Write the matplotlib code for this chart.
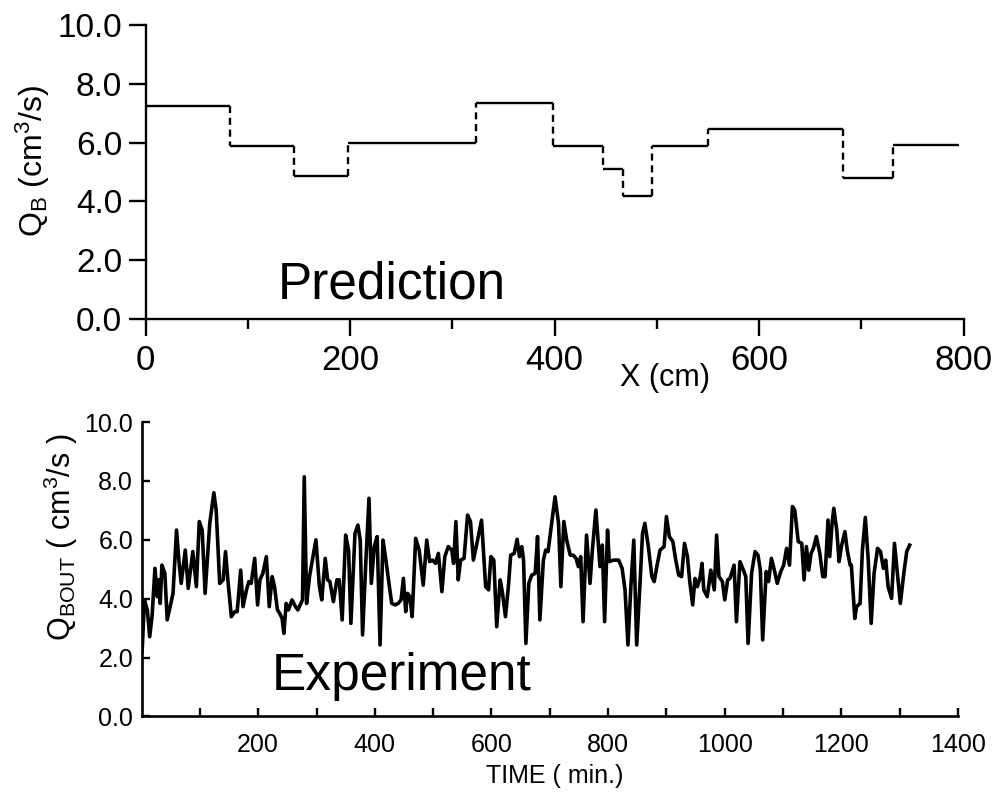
import matplotlib
matplotlib.use("Agg")
import matplotlib.pyplot as plt

plt.rcParams["font.family"] = ["Liberation Sans", "DejaVu Sans"]
plt.rcParams["mathtext.fontset"] = "custom"
plt.rcParams["mathtext.rm"] = "Liberation Sans"
plt.rcParams["mathtext.it"] = "Liberation Sans"

# Prediction: piecewise constant Q_B along the column
pred_edges = [0, 82, 145, 198, 323, 398, 447, 467, 495, 550, 682, 731, 796]
pred_levels = [7.25, 5.9, 4.85, 6.0, 7.35, 5.9, 5.1, 4.2, 5.9, 6.45, 4.8, 5.92]

# Experiment: outflow rate vs time
exp_time = [
    1, 5, 10, 14, 18, 23, 27, 29, 32, 35, 40, 44, 49, 54, 60, 64, 68, 75, 80, 84,
    88, 94, 99, 104, 109, 117, 124, 128, 134, 140, 144, 148, 154, 160, 164, 170,
    174, 180, 184, 188, 194, 199, 203, 208, 214, 219, 224, 228, 233, 237, 241,
    244, 248, 252, 258, 264, 268, 272, 276, 279, 283, 288, 294, 299, 305, 309,
    315, 319, 323, 329, 335, 339, 344, 350, 355, 359, 366, 371, 375, 379, 385,
    390, 394, 399, 404, 409, 414, 419, 425, 429, 435, 440, 445, 449, 453, 456,
    460, 464, 470, 476, 483, 489, 494, 499, 504, 509, 515, 520, 526, 532, 535,
    539, 543, 547, 553, 559, 564, 569, 575, 583, 590, 595, 599, 604, 609, 615,
    619, 624, 629, 633, 639, 644, 648, 652, 655, 659, 664, 669, 675, 679, 683,
    689, 693, 697, 709, 715, 719, 724, 729, 735, 740, 745, 749, 753, 757, 763,
    769, 773, 779, 786, 790, 794, 799, 802, 809, 818, 824, 829, 834, 839, 844,
    849, 855, 859, 863, 869, 875, 879, 884, 889, 896, 900, 905, 911, 916, 921,
    926, 931, 936, 940, 945, 949, 953, 958, 961, 964, 970, 976, 982, 986, 990,
    996, 1000, 1005, 1009, 1016, 1020, 1026, 1032, 1036, 1040, 1046, 1052, 1057,
    1061, 1065, 1071, 1075, 1080, 1085, 1090, 1096, 1101, 1106, 1111, 1116,
    1120, 1126, 1132, 1136, 1140, 1144, 1148, 1152, 1157, 1163, 1168, 1172,
    1177, 1180, 1184, 1187, 1192, 1196, 1200, 1206, 1210, 1215, 1217, 1223,
    1226, 1232, 1236, 1241, 1246, 1251, 1256, 1262, 1267, 1272, 1276, 1280,
    1286, 1291, 1296, 1301, 1307, 1312, 1317,
]
exp_q = [
    2.2, 3.96, 3.6, 2.71, 3.39, 5.03, 4.07, 4.64, 3.84, 5.14, 4.86, 3.28, 3.73,
    4.18, 6.33, 5.31, 4.52, 5.65, 4.35, 4.97, 5.6, 4.41, 6.62, 6.33, 4.18, 6.56,
    7.6, 7.01, 4.52, 4.64, 5.6, 4.64, 3.39, 3.56, 3.56, 4.97, 3.73, 4.3, 4.58,
    4.52, 5.37, 3.79, 4.64, 4.86, 5.43, 3.73, 4.75, 4.41, 3.62, 3.5, 3.33, 2.82,
    3.84, 3.62, 3.96, 3.73, 3.62, 3.79, 3.96, 8.14, 3.84, 4.75, 5.43, 6.0, 4.41,
    3.96, 5.37, 4.64, 4.58, 3.9, 4.64, 4.64, 3.28, 6.16, 5.65, 3.16, 6.22, 6.5,
    5.99, 2.77, 5.43, 7.41, 4.52, 5.77, 6.11, 2.43, 5.99, 5.31, 4.41, 3.84,
    3.79, 3.84, 3.96, 4.69, 3.56, 4.18, 4.07, 3.39, 6.05, 5.65, 4.46, 5.99,
    5.26, 5.31, 5.2, 5.54, 4.24, 5.43, 5.77, 5.65, 5.2, 6.62, 4.64, 5.31, 5.37,
    6.84, 6.62, 5.31, 5.88, 6.67, 4.41, 4.3, 5.43, 5.31, 3.05, 4.64, 4.18, 3.39,
    4.41, 5.48, 5.54, 6.02, 5.43, 5.77, 5.31, 2.48, 4.52, 4.8, 4.86, 6.11, 3.28,
    5.31, 5.65, 5.6, 7.46, 6.56, 4.41, 6.62, 5.99, 5.48, 5.48, 5.37, 5.09, 5.43,
    3.22, 6.16, 4.52, 5.65, 7.01, 5.09, 5.82, 3.22, 6.33, 5.26, 5.31, 5.31,
    5.03, 4.3, 2.43, 4.41, 5.99, 2.43, 4.64, 6.22, 6.56, 5.77, 4.75, 4.58, 5.14,
    5.65, 5.77, 6.79, 6.11, 5.94, 5.31, 4.8, 4.75, 5.88, 5.43, 4.58, 3.79, 4.69,
    4.41, 4.75, 5.2, 4.3, 4.07, 4.97, 4.3, 6.16, 4.75, 4.58, 3.96, 4.64, 4.69,
    5.14, 3.22, 5.26, 4.97, 4.75, 2.48, 4.86, 5.6, 5.48, 4.97, 2.6, 4.92, 4.58,
    5.37, 4.97, 4.52, 4.92, 5.14, 5.71, 5.14, 7.13, 7.01, 5.94, 5.88, 4.64,
    5.77, 4.97, 5.54, 5.71, 6.11, 5.54, 4.75, 4.75, 6.67, 5.43, 6.56, 7.07,
    6.33, 5.26, 5.77, 6.28, 5.65, 5.14, 5.14, 3.33, 3.73, 3.84, 5.65, 6.76,
    5.31, 3.16, 4.86, 5.71, 5.6, 5.03, 5.31, 4.41, 4.01, 5.88, 4.86, 3.84, 4.86,
    5.6, 5.82,
]

top_xticks = [0, 200, 400, 600, 800]
y_ticks = [0, 2, 4, 6, 8, 10]
bot_xticks = [200, 400, 600, 800, 1000, 1200, 1400]

fig = plt.figure(figsize=(9.96, 7.96), dpi=100)

# ---- top panel: prediction ----
ax1 = fig.add_axes([0.1463, 0.5992, 0.8211, 0.3694])
for i, lev in enumerate(pred_levels):
    ax1.hlines(lev, pred_edges[i], pred_edges[i + 1], color="black", linewidth=1.7)
for i in range(1, len(pred_levels)):
    ax1.vlines(pred_edges[i], pred_levels[i - 1], pred_levels[i], color="black",
               linewidth=1.7, linestyle=(0, (3, 2)))

ax1.set_xlim(0, 800)
ax1.set_ylim(0, 10)
ax1.set_xticks(top_xticks)
ax1.set_xticks([100, 300, 500, 700], minor=True)
ax1.set_yticks(y_ticks)
ax1.set_yticklabels([f"{v:.1f}" for v in y_ticks])
for s in ["top", "right"]:
    ax1.spines[s].set_visible(False)
for s in ["left", "bottom"]:
    ax1.spines[s].set_linewidth(1.7)
ax1.tick_params(axis="both", which="major", direction="out", length=12, width=1.7, pad=5)
ax1.tick_params(axis="y", labelsize=24)
ax1.tick_params(axis="x", labelsize=25, pad=6)
ax1.tick_params(axis="x", which="minor", direction="out", length=7, width=1.7)
ax1.set_xlabel("X (cm)", fontsize=22, ha="center", va="top")
ax1.xaxis.set_label_coords(0.635, -0.15)
ax1.set_ylabel(r"Q$_{\mathrm{B}}$ (cm$^{3}$/s)", fontsize=23)
ax1.yaxis.set_label_coords(-0.1146, 0.537)
ax1.text(129, 0.71, "Prediction", fontsize=37, va="baseline", ha="left")

# ---- bottom panel: experiment ----
ax2 = fig.add_axes([0.1421, 0.0999, 0.8198, 0.3699])
ax2.plot(exp_time, exp_q, color="black", linewidth=2.6)
ax2.set_xlim(0, 1400)
ax2.set_ylim(0, 10)
ax2.set_xticks(bot_xticks)
ax2.set_xticks([100, 300, 500, 700, 900, 1100, 1300], minor=True)
ax2.set_yticks(y_ticks)
ax2.set_yticklabels([f"{v:.1f}" for v in y_ticks])
for s in ["top", "right"]:
    ax2.spines[s].set_visible(False)
for s in ["left", "bottom"]:
    ax2.spines[s].set_linewidth(1.9)
ax2.tick_params(axis="both", which="both", direction="in", length=6, width=1.7,
                labelsize=18)
ax2.tick_params(axis="x", which="major", pad=12)
ax2.tick_params(axis="y", which="major", pad=6)
ax2.set_xlabel("TIME ( min.)", fontsize=18, ha="center", va="top")
ax2.xaxis.set_label_coords(0.506, -0.161)
ax2.set_ylabel(r"Q$_{\mathrm{BOUT}}$ ( cm$^{3}$/s )", fontsize=22)
ax2.yaxis.set_label_coords(-0.0753, 0.609)
ax2.text(224, 0.9, "Experiment", fontsize=37, va="baseline", ha="left")

fig.savefig("out.png", dpi=100)
